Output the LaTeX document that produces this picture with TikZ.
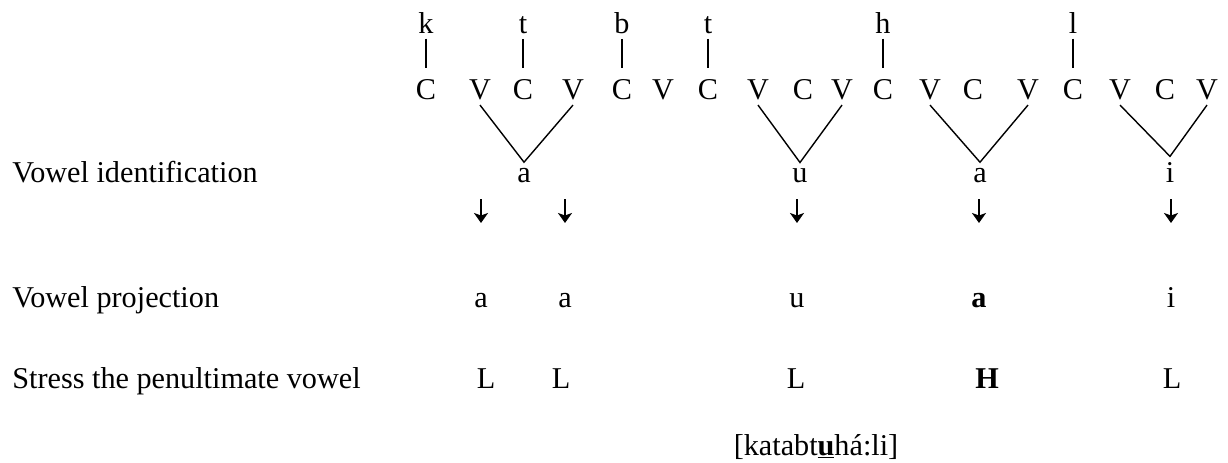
\documentclass[tikz,border=0pt]{standalone}
\usepackage{fontspec}
\setmainfont{Liberation Serif}
\usetikzlibrary{arrows.meta}

\begin{document}
\begin{tikzpicture}[x=0.02cm,y=-0.02cm,
    font=\fontsize{17.2}{20}\selectfont,
    seg/.style={anchor=base,inner sep=0.3em},
    rowlabel/.style={anchor=base west,inner sep=0pt},
    assoc/.style={line width=0.8pt},
    downarrow/.style={line width=1.2pt,-{Stealth[width=0.28cm,length=0.2cm,inset=0.05cm]}}]
  \useasboundingbox (0,0) rectangle (1228,463);

  % skeleton
  \foreach \n/\x/\s in {1/426/C,2/480/V,3/523/C,4/573/V,5/622/C,6/663/V,
                        7/708/C,8/758/V,9/803/C,10/842/V,11/883/C,12/930/V,
                        13/973/C,14/1028/V,15/1073/C,16/1120/V,17/1165/C,18/1207/V}
    \node[seg] (s\n) at (\x,99) {\s};

  % root consonants
  \foreach \c/\l/\n in {k/k/1,t/t/3,b/b/5,tt/t/7,h/h/11,l/l/15}
    \node[seg] (r\c) at (s\n.base |- 0,33) {\l};
  \foreach \c/\n in {k/1,t/3,b/5,tt/7,h/11,l/15}
    \draw[assoc,shorten >=0.1cm] (r\c.south) -- (s\n.north);

  % melody
  \node[rowlabel] (lid) at (12,182) {Vowel identification};
  \node[seg] (va1) at (524,182) {a};
  \node[seg] (vu) at (800,182) {u};
  \node[seg] (va2) at (980,182) {a};
  \node[seg] (vi) at (1170,182) {i};
  \draw[assoc] (s2.south) -- (va1.north) -- (s4.south);
  \draw[assoc] (s8.south) -- (vu.north) -- (s10.south);
  \draw[assoc] (s12.south) -- (va2.north) -- (s14.south);
  \draw[assoc] (s16.south) -- (vi.north) -- (s18.south);

  % projection
  \node[rowlabel] (lproj) at (12,307) {Vowel projection};
  \node[seg] (pa1) at (481,307) {a};
  \node[seg] (pa2) at (565,307) {a};
  \node[seg] (pu) at (797,307) {u};
  \node[seg] (pa3) at (979,307) {\textbf{a}};
  \node[seg] (pi) at (1171,307) {i};
  \foreach \p in {pa1,pa2,pu,pa3,pi}
    \draw[downarrow] (\p.base) ++(0,-108) -- ++(0,24);

  % stress
  \node[rowlabel] (lstress) at (12,388) {Stress the penultimate vowel};
  \node[seg] (t1) at (486,388) {L};
  \node[seg] (t2) at (561,388) {L};
  \node[seg] (t3) at (796,388) {L};
  \node[seg] (t4) at (987,388) {\textbf{H}};
  \node[seg] (t5) at (1172,388) {L};

  \node[seg] (out) at (816,455) {[katabt\underline{\textbf{u}}há:li]};
\end{tikzpicture}
\end{document}
